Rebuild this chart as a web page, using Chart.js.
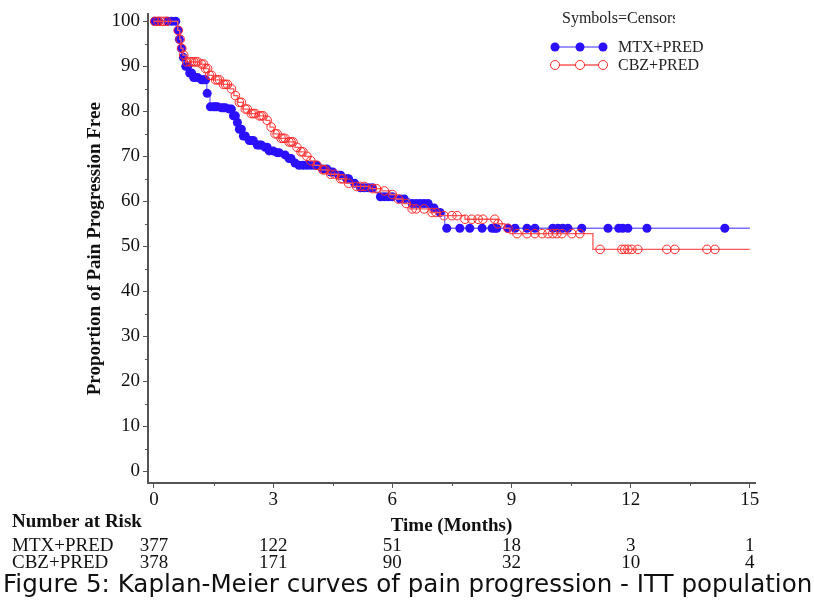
<!DOCTYPE html>
<html lang="en">
<head>
    <meta charset="UTF-8">
    <title>Kaplan-Meier curves of pain progression</title>
    <script src="https://cdn.jsdelivr.net/npm/chart.js"></script>
    <style>
        body { margin: 0; background: #ffffff; }
        #wrap { width: 814px; height: 602px; position: relative; }
    </style>
</head>
<body>
    <div id="wrap"><canvas id="kmChart"></canvas></div>

    <script>
        // Step points of the KM curves (months, % free)
        const mtxTimes = [0, 0.60, 0.63, 0.68, 0.73, 0.78, 0.86, 0.98, 1.16, 1.31, 1.33, 1.41, 1.66, 1.86, 1.99, 2.06, 2.14, 2.24, 2.37, 2.54, 2.72, 2.87, 3.07, 3.27, 3.37, 3.50, 3.62, 4.18, 4.38, 4.58, 4.76, 4.98, 5.13, 5.56, 5.64, 6.14, 6.44, 7.00, 7.10, 7.32, 15.0];
        const mtxSurv  = [100, 98, 96, 94, 92, 90, 88.5, 87.5, 87, 86.5, 84, 81, 80.8, 80.5, 79, 77.5, 76, 74.5, 73.5, 72.5, 72, 71.2, 70.8, 70.3, 69.5, 68.5, 68, 67.2, 66.5, 65.8, 65, 64, 63, 62, 61, 60.5, 59.5, 58.5, 57.5, 54, 54];

        const cbzTimes = [0, 0.60, 0.65, 0.68, 0.73, 0.81, 1.16, 1.28, 1.38, 1.49, 1.71, 1.91, 2.01, 2.11, 2.24, 2.39, 2.62, 2.82, 2.92, 3.02, 3.15, 3.37, 3.55, 3.67, 3.80, 3.93, 4.03, 4.18, 4.38, 4.63, 4.83, 5.01, 5.44, 5.74, 5.94, 6.09, 6.27, 6.44, 6.95, 7.20, 7.83, 8.66, 8.83, 8.96, 11.05, 15.0];
        const cbzSurv  = [100, 98, 96, 94, 92.5, 91, 90.5, 89.5, 88, 87, 86, 85, 83.5, 82, 80.5, 79.5, 79, 78, 76.5, 75, 74, 73.2, 72, 71, 70, 69, 68, 67, 66, 65, 64, 63.3, 62.8, 62.3, 61.5, 60.5, 59.5, 58.3, 57.5, 56.8, 56, 55, 54, 52.8, 49.3, 49.3];

        // Censoring times (months)
        const mtxCensor = [0.02, 0.12, 0.35, 0.45, 0.55, 0.61, 0.64, 0.69, 0.74, 0.80, 0.85, 0.90, 0.95, 1.00, 1.05, 1.10, 1.20, 1.25, 1.30, 1.34, 1.42, 1.50, 1.55, 1.60, 1.70, 1.75, 1.80, 1.90, 1.95, 2.00, 2.05, 2.10, 2.15, 2.20, 2.25, 2.30, 2.40, 2.45, 2.50, 2.60, 2.65, 2.70, 2.80, 2.85, 2.90, 3.00, 3.10, 3.15, 3.30, 3.40, 3.45, 3.55, 3.65, 3.75, 3.85, 3.95, 4.05, 4.10, 4.25, 4.35, 4.45, 4.50, 4.65, 4.70, 4.85, 4.90, 5.05, 5.20, 5.30, 5.40, 5.50, 5.70, 5.80, 5.90, 6.00, 6.20, 6.30, 6.50, 6.60, 6.70, 6.80, 6.90, 7.05, 7.20, 7.37, 7.70, 7.95, 8.26, 8.51, 8.58, 8.63, 8.91, 9.09, 9.39, 9.59, 10.04, 10.17, 10.29, 10.42, 10.77, 11.43, 11.70, 11.80, 11.93, 12.41, 14.37];
        const cbzCensor = [0.02, 0.10, 0.18, 0.26, 0.32, 0.61, 0.66, 0.70, 0.75, 0.82, 0.90, 0.95, 1.00, 1.05, 1.10, 1.20, 1.25, 1.30, 1.35, 1.40, 1.45, 1.55, 1.60, 1.65, 1.75, 1.80, 1.85, 1.95, 2.05, 2.15, 2.20, 2.30, 2.35, 2.45, 2.50, 2.55, 2.65, 2.70, 2.75, 2.85, 2.95, 3.05, 3.10, 3.20, 3.25, 3.30, 3.40, 3.45, 3.50, 3.60, 3.70, 3.75, 3.85, 3.95, 4.10, 4.25, 4.30, 4.45, 4.55, 4.70, 4.75, 4.90, 5.10, 5.20, 5.30, 5.50, 5.60, 5.80, 6.00, 6.15, 6.35, 6.50, 6.60, 6.80, 7.00, 7.10, 7.30, 7.50, 7.63, 7.83, 8.00, 8.16, 8.28, 8.58, 8.66, 8.91, 9.14, 9.39, 9.59, 9.77, 9.92, 10.04, 10.14, 10.27, 10.52, 10.72, 11.23, 11.78, 11.85, 11.93, 12.03, 12.18, 12.91, 13.11, 13.92, 14.12];

        const xTicks = [0, 3, 6, 9, 12, 15];
        const yTicks = [0, 10, 20, 30, 40, 50, 60, 70, 80, 90, 100];
        const xMinor = [1.5, 4.5, 7.5, 10.5, 13.5];
        const yMinor = [5, 15, 25, 35, 45, 55, 65, 75, 85, 95];

        // Number at risk table
        const riskTimes = [0, 3, 6, 9, 12, 15];
        const mtxRisk = [377, 122, 51, 18, 3, 1];
        const cbzRisk = [378, 171, 90, 32, 10, 4];

        const BLUE = '#2a10ff';
        const BLUE_LINE = '#7a6cff';
        const RED = '#ff2a2a';
        const RED_LINE = '#ff5a5a';
        const SERIF = '"Liberation Serif", "Times New Roman", serif';

        function stepAt(times, surv, t) {
            let v = surv[0];
            for (let i = 0; i < times.length; i++) {
                if (times[i] <= t) v = surv[i];
            }
            return v;
        }

        const curve = (times, surv) => times.map((t, i) => ({ x: t, y: surv[i] }));
        const censorPts = (cens, times, surv) => cens.map(t => ({ x: t, y: stepAt(times, surv, t) }));

        const extras = {
            id: 'extras',
            afterDraw(chart) {
                const ctx = chart.ctx;
                const xs = chart.scales.x, ys = chart.scales.y;
                const area = chart.chartArea;
                ctx.save();

                // minor ticks
                ctx.strokeStyle = '#555';
                ctx.lineWidth = 1;
                ctx.beginPath();
                yMinor.forEach(v => {
                    const py = Math.round(ys.getPixelForValue(v)) + 0.5;
                    ctx.moveTo(area.left - 3, py);
                    ctx.lineTo(area.left, py);
                });
                xMinor.forEach(v => {
                    const px = Math.round(xs.getPixelForValue(v)) + 0.5;
                    ctx.moveTo(px, area.bottom);
                    ctx.lineTo(px, area.bottom + 3);
                });
                ctx.stroke();

                // legend (title is cut off at the right, as in the source)
                ctx.save();
                ctx.beginPath();
                ctx.rect(540, 0, 135, 40);
                ctx.clip();
                ctx.fillStyle = '#222';
                ctx.font = '16px ' + SERIF;
                ctx.textBaseline = 'middle';
                ctx.textAlign = 'left';
                ctx.fillText('Symbols=Censors', 562, 19);
                ctx.restore();

                const legendRow = (y, line, mark, filled, label) => {
                    ctx.strokeStyle = line;
                    ctx.lineWidth = 1.5;
                    ctx.beginPath();
                    ctx.moveTo(552, y);
                    ctx.lineTo(607, y);
                    ctx.stroke();
                    [555, 580, 603].forEach(px => {
                        ctx.beginPath();
                        ctx.arc(px, y, 4.5, 0, Math.PI * 2);
                        if (filled) { ctx.fillStyle = mark; ctx.fill(); }
                        else { ctx.fillStyle = '#fff'; ctx.fill(); ctx.strokeStyle = mark; ctx.lineWidth = 1; ctx.stroke(); }
                    });
                    ctx.fillStyle = '#222';
                    ctx.font = '16px ' + SERIF;
                    ctx.textBaseline = 'middle';
                    ctx.fillText(label, 618, y + 1);
                };
                legendRow(47, BLUE_LINE, BLUE, true, 'MTX+PRED');
                legendRow(65, RED_LINE, RED, false, 'CBZ+PRED');

                // number at risk
                ctx.fillStyle = '#111';
                ctx.textBaseline = 'middle';
                ctx.textAlign = 'left';
                ctx.font = 'bold 19px ' + SERIF;
                ctx.fillText('Number at Risk', 12, 522);
                ctx.font = '19px ' + SERIF;
                ctx.fillText('MTX+PRED', 12, 546);
                ctx.fillText('CBZ+PRED', 12, 563);
                ctx.textAlign = 'center';
                riskTimes.forEach((t, i) => {
                    const px = xs.getPixelForValue(t);
                    ctx.fillText(String(mtxRisk[i]), px, 546);
                    ctx.fillText(String(cbzRisk[i]), px, 563);
                });

                // caption
                ctx.fillStyle = '#111';
                ctx.font = '24.6px "DejaVu Sans", Verdana, sans-serif';
                ctx.textAlign = 'left';
                ctx.fillText('Figure 5: Kaplan-Meier curves of pain progression - ITT population', 3, 586);

                ctx.restore();
            }
        };

        new Chart(document.getElementById('kmChart'), {
            type: 'scatter',
            data: {
                datasets: [
                    {
                        label: 'CBZ+PRED censored',
                        data: censorPts(cbzCensor, cbzTimes, cbzSurv),
                        showLine: false,
                        pointStyle: 'circle',
                        pointRadius: 4.3,
                        pointBorderWidth: 1,
                        pointBorderColor: RED,
                        pointBackgroundColor: 'rgba(255,255,255,0)'
                    },
                    {
                        label: 'CBZ+PRED',
                        data: curve(cbzTimes, cbzSurv),
                        showLine: true,
                        stepped: true,
                        borderColor: RED_LINE,
                        borderWidth: 1.3,
                        pointRadius: 0
                    },
                    {
                        label: 'MTX+PRED censored',
                        data: censorPts(mtxCensor, mtxTimes, mtxSurv),
                        showLine: false,
                        pointStyle: 'circle',
                        pointRadius: 4.5,
                        pointBorderWidth: 0,
                        pointBackgroundColor: BLUE
                    },
                    {
                        label: 'MTX+PRED',
                        data: curve(mtxTimes, mtxSurv),
                        showLine: true,
                        stepped: true,
                        borderColor: BLUE_LINE,
                        borderWidth: 1.3,
                        pointRadius: 0
                    }
                ]
            },
            options: {
                responsive: true,
                maintainAspectRatio: false,
                animation: false,
                layout: { padding: { left: 0, right: 59, top: 12, bottom: 0 } },
                plugins: {
                    legend: { display: false },
                    tooltip: { enabled: false }
                },
                scales: {
                    x: {
                        type: 'linear',
                        min: -0.15,
                        max: 15.13,
                        afterBuildTicks: s => { s.ticks = xTicks.map(v => ({ value: v })); },
                        afterFit: s => { s.height = 119; },
                        grid: { drawOnChartArea: false, drawTicks: true, tickLength: 5, color: '#555' },
                        border: { display: true, color: '#555', width: 2 },
                        ticks: { color: '#111', padding: 1, maxRotation: 0, font: { family: SERIF, size: 19 } },
                        title: {
                            display: true,
                            text: 'Time (Months)',
                            color: '#111',
                            padding: { top: 0, bottom: 65 },
                            font: { family: SERIF, size: 19, weight: 'bold' }
                        }
                    },
                    y: {
                        type: 'linear',
                        min: -2.65,
                        max: 101.55,
                        afterBuildTicks: s => { s.ticks = yTicks.map(v => ({ value: v })); },
                        afterFit: s => { s.width = 148; },
                        grid: { drawOnChartArea: false, drawTicks: true, tickLength: 5, color: '#555' },
                        border: { display: true, color: '#555', width: 2 },
                        ticks: { color: '#111', padding: 3, font: { family: SERIF, size: 19 } },
                        title: {
                            display: true,
                            text: 'Proportion of Pain Progression Free',
                            color: '#111',
                            padding: { top: 84, bottom: 0 },
                            font: { family: SERIF, size: 19, weight: 'bold' }
                        }
                    }
                }
            },
            plugins: [extras]
        });
    </script>
</body>
</html>
